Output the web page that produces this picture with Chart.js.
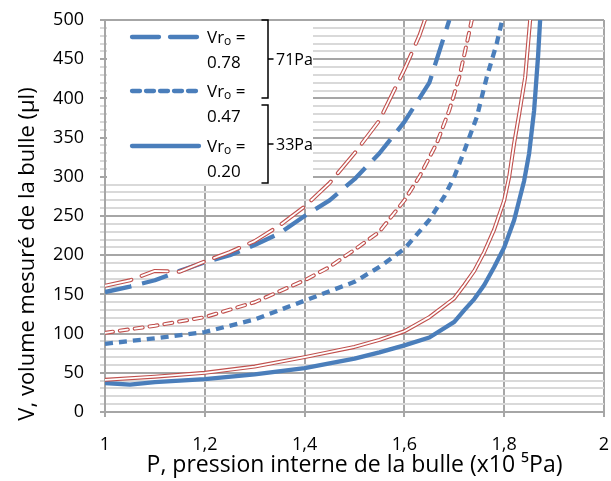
<!DOCTYPE html>
<html>
<head>
<meta charset="utf-8">
<script src="https://cdn.jsdelivr.net/npm/chart.js@4.4.0/dist/chart.umd.min.js"></script>
<style>
  body { margin: 0; background: #fff; }
</style>
</head>
<body>
<canvas id="chart" width="611" height="481"></canvas>
<script>
// ---- data ----
const pBlue78 = [1, 1.05, 1.1, 1.15, 1.2, 1.25, 1.3, 1.35, 1.4, 1.45, 1.5, 1.55, 1.6, 1.63, 1.65, 1.66, 1.68, 1.69];
const vBlue78 = [153, 160, 168, 180, 191, 200, 213, 228, 250, 270, 297, 330, 370, 400, 420, 440, 480, 500];

const pRed78 = [1, 1.05, 1.1, 1.15, 1.2, 1.25, 1.3, 1.35, 1.4, 1.45, 1.5, 1.55, 1.6, 1.63, 1.641];
const vRed78 = [161, 168, 180, 179, 192, 204, 218, 238, 262, 292, 330, 372, 437, 480, 500];

const pBlue47 = [1, 1.1, 1.2, 1.3, 1.4, 1.5, 1.55, 1.6, 1.65, 1.68, 1.7, 1.72, 1.745, 1.765, 1.785, 1.796];
const vBlue47 = [87, 94, 102, 118, 142, 166, 185, 208, 245, 275, 300, 333, 376, 427, 470, 500];

const pRed47 = [1, 1.1, 1.2, 1.3, 1.4, 1.45, 1.5, 1.55, 1.6, 1.63, 1.665, 1.69, 1.71, 1.725, 1.735];
const vRed47 = [101, 110, 121, 140, 168, 185, 207, 230, 270, 300, 343, 385, 427, 470, 500];

const pBlue20 = [1, 1.05, 1.1, 1.2, 1.3, 1.4, 1.45, 1.5, 1.55, 1.6, 1.65, 1.7, 1.72, 1.74, 1.76, 1.78, 1.8, 1.82, 1.84, 1.85, 1.86, 1.868, 1.872];
const vBlue20 = [37, 35, 38, 42, 48, 56, 62, 68, 76, 85, 95, 115, 130, 144, 162, 185, 210, 245, 295, 330, 385, 455, 500];

const pRed20 = [1, 1.1, 1.2, 1.3, 1.4, 1.5, 1.55, 1.6, 1.65, 1.7, 1.72, 1.74, 1.76, 1.78, 1.8, 1.81, 1.82, 1.83, 1.842, 1.852];
const vRed20 = [41, 45, 50, 58, 70, 83, 92, 103, 121, 145, 162, 180, 204, 233, 270, 300, 343, 380, 427, 500];

const legendLabels = ["0.78", "0.47", "0.20"];
const bracketLabels = ["71Pa", "33Pa"];
const yTitle = "V, volume mesuré de la bulle (µl)";
const xTitle = "P, pression interne de la bulle (x10 \u2075Pa)";

const BLUE = "#4a7ebb";
const RED = "#c0504d";
const FONT = "'Open Sans', sans-serif";

function pts(px, vy) {
  return px.map((x, i) => ({ x: x, y: vy[i] }));
}

const longDash = [27, 11];
const shortDash = [8, 7];

function redPair(px, vy, dash) {
  return [
    { data: pts(px, vy), borderColor: "#ffffff", borderWidth: 1.8, borderDash: dash, borderCapStyle: "round" },
    { data: pts(px, vy), borderColor: RED, borderWidth: 4, borderDash: dash, borderCapStyle: "round" }
  ];
}

const datasets = [
  ...redPair(pRed78, vRed78, longDash),
  ...redPair(pRed47, vRed47, shortDash),
  ...redPair(pRed20, vRed20, []),
  { data: pts(pBlue78, vBlue78), borderColor: BLUE, borderWidth: 4.3, borderDash: [27, 11], legendIdx: 0 },
  { data: pts(pBlue47, vBlue47), borderColor: BLUE, borderWidth: 4.3, borderDash: [8, 6], legendIdx: 1 },
  { data: pts(pBlue20, vBlue20), borderColor: BLUE, borderWidth: 4.3, borderDash: [], legendIdx: 2 }
];
datasets.forEach(d => {
  d.pointRadius = 0;
  d.fill = false;
  d.tension = 0;
  d.borderJoinStyle = "round";
});

const fmtX = v => String(Math.round(v * 10) / 10).replace(".", ",");

/* tick labels, legend with brackets, rotated y title */
const extras = {
  id: "extras",
  afterDraw(chart) {
    const ctx = chart.ctx;
    const xs = chart.scales.x, ys = chart.scales.y;
    ctx.save();

    // tick labels
    ctx.fillStyle = "#000";
    ctx.font = "18px " + FONT;
    ctx.textBaseline = "middle";
    ctx.textAlign = "right";
    ys.ticks.forEach(t => {
      if (t.value % 50 === 0) ctx.fillText(String(t.value), 84, ys.getPixelForValue(t.value));
    });
    ctx.textAlign = "center";
    xs.ticks.forEach(t => {
      ctx.fillText(fmtX(t.value), xs.getPixelForValue(t.value), 445);
    });

    // legend
    ctx.fillStyle = "#fff";
    ctx.fillRect(107, 21, 206, 163);

    const rows = [37, 91, 146];
    const blues = chart.data.datasets.filter(d => d.legendIdx !== undefined);
    blues.forEach((d, i) => {
      const y = rows[i];
      ctx.strokeStyle = d.borderColor;
      ctx.lineWidth = 4.3;
      ctx.lineCap = "round";
      ctx.setLineDash(d.borderDash);
      ctx.beginPath();
      ctx.moveTo(132, y);
      ctx.lineTo(199, y);
      ctx.stroke();
      ctx.setLineDash([]);

      ctx.fillStyle = "#000";
      ctx.textBaseline = "alphabetic";
      ctx.textAlign = "left";
      ctx.font = "17px " + FONT;
      ctx.fillText("Vr", 207, y + 6);
      let w = ctx.measureText("Vr").width;
      ctx.font = "12px " + FONT;
      ctx.fillText("o", 207 + w, y + 8);
      let w2 = ctx.measureText("o").width;
      ctx.font = "17px " + FONT;
      ctx.fillText(" =", 207 + w + w2, y + 6);
      ctx.fillText(legendLabels[i], 207, y + 31);
    });

    // brackets
    ctx.strokeStyle = "#000";
    ctx.lineWidth = 1.5;
    const brackets = [[20, 98], [105, 183]];
    brackets.forEach((b, i) => {
      const mid = (b[0] + b[1]) / 2;
      ctx.beginPath();
      ctx.moveTo(262, b[0]);
      ctx.lineTo(268, b[0]);
      ctx.lineTo(268, b[1]);
      ctx.lineTo(262, b[1]);
      ctx.moveTo(268, mid);
      ctx.lineTo(273, mid);
      ctx.stroke();
      ctx.fillStyle = "#000";
      ctx.font = "16px " + FONT;
      ctx.textBaseline = "middle";
      ctx.fillText(bracketLabels[i], 276, mid + 1);
    });

    // y axis title, sits a bit low like in the sheet
    ctx.translate(28, 254);
    ctx.rotate(-Math.PI / 2);
    ctx.fillStyle = "#000";
    ctx.font = "22px " + FONT;
    ctx.textAlign = "center";
    ctx.textBaseline = "middle";
    ctx.fillText(yTitle, 0, 0);
    ctx.restore();
  }
};

new Chart(document.getElementById("chart"), {
  type: "line",
  data: { datasets: datasets },
  plugins: [extras],
  options: {
    responsive: false,
    animation: false,
    layout: { padding: { left: 0, right: 7, top: 20, bottom: 0 } },
    plugins: { legend: { display: false }, tooltip: { enabled: false } },
    scales: {
      x: {
        type: "linear",
        min: 1,
        max: 2,
        z: 0,
        ticks: { stepSize: 0.2, display: false },
        grid: { color: "#a6a6a6", lineWidth: 2, tickLength: 5 },
        border: { color: "#a6a6a6", width: 2 },
        title: {
          display: true,
          text: xTitle,
          color: "#000",
          font: { family: FONT, size: 23 },
          padding: { top: 0, bottom: 2 }
        },
        afterFit(scale) { scale.height = 69; }
      },
      y: {
        min: 0,
        max: 500,
        z: -1,
        ticks: { stepSize: 10, autoSkip: false, display: false },
        grid: {
          color: c => (c.tick && c.tick.value % 50 === 0 ? "#a6a6a6" : "#d9d9d9"),
          lineWidth: 2,
          tickLength: 5
        },
        border: { color: "#a6a6a6", width: 2 },
        afterFit(scale) { scale.width = 105; }
      }
    }
  }
});
</script>
</body>
</html>
